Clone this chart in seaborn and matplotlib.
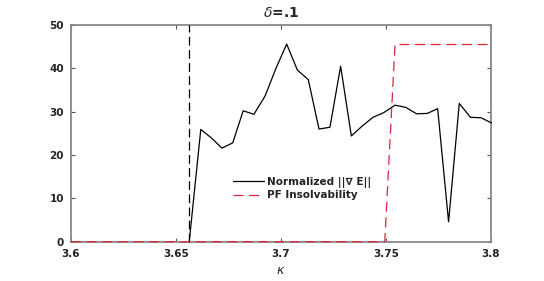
import numpy as np
import pandas as pd
import matplotlib
matplotlib.use("Agg")
import matplotlib.pyplot as plt
import seaborn as sns

# kappa samples and normalized gradient values
kappa = [3.6563, 3.6618, 3.6667, 3.6719, 3.6770, 3.6820, 3.6871, 3.6924,
         3.6976, 3.7027, 3.7078, 3.7130, 3.7181, 3.7233, 3.7284, 3.7335,
         3.7387, 3.7438, 3.7490, 3.7543, 3.7594, 3.7646, 3.7697, 3.7746,
         3.7798, 3.7849, 3.7902, 3.7952, 3.8003]
grad_norm = [0.0, 25.9, 24.0, 21.6, 22.8, 30.2, 29.4, 33.6,
             40.0, 45.6, 39.6, 37.4, 26.0, 26.4, 40.5, 24.4,
             26.7, 28.7, 29.8, 31.5, 31.0, 29.5, 29.6, 30.7,
             4.6, 31.9, 28.7, 28.6, 27.4]

# PF insolvability step
pf_kappa = [3.60, 3.7494, 3.7543, 3.80]
pf_value = [0.0, 0.0, 45.5, 45.5]

# critical kappa marker
crit_kappa = [3.6563, 3.6563]
crit_value = [0.0, 50.0]

df_grad = pd.DataFrame({"kappa": kappa, "val": grad_norm})
df_pf = pd.DataFrame({"kappa": pf_kappa, "val": pf_value})
df_crit = pd.DataFrame({"kappa": crit_kappa, "val": crit_value})

sns.set_style("white")
plt.rcParams["font.family"] = ["DejaVu Sans"]

fig = plt.figure(figsize=(5.44, 2.81), dpi=100)
ax = fig.add_axes([71 / 544, 1 - 241.7 / 281, 420 / 544, 216.7 / 281])

sns.lineplot(data=df_crit, x="kappa", y="val", ax=ax, color="black",
             lw=0.9, estimator=None, sort=False)
ax.lines[-1].set_dashes([7, 3.5])
sns.lineplot(data=df_grad, x="kappa", y="val", ax=ax, color="black",
             lw=0.9, estimator=None, sort=False, label="Normalized ||\u2207 E||")
sns.lineplot(data=df_pf, x="kappa", y="val", ax=ax, color="#d9263a",
             lw=0.9, estimator=None, sort=False, label="PF Insolvability")
ax.lines[-1].set_dashes([8, 4.5])
for ln in ax.lines:
    ln.set_zorder(3)
    ln.set_clip_on(False)

ax.set_xlim(3.6, 3.8)
ax.set_ylim(0, 50)
ax.set_xticks([3.6, 3.65, 3.7, 3.75, 3.8])
ax.set_xticklabels(["3.6", "3.65", "3.7", "3.75", "3.8"])
ax.set_yticks([0, 10, 20, 30, 40, 50])

for s in ax.spines.values():
    s.set_color("#888888")
    s.set_linewidth(1.3)
    s.set_visible(True)
    s.set_zorder(2)

ax.tick_params(direction="in", length=3, width=0.8, color="#555555",
               top=True, right=True, bottom=True, left=True,
               labelsize=7.5, labelcolor="#222222")
ax.tick_params(axis="x", pad=5)
ax.tick_params(axis="y", pad=5)
for lab in ax.get_xticklabels() + ax.get_yticklabels():
    lab.set_fontweight("bold")

ax.set_title(r"$\delta$=.1", fontsize=10, fontweight="bold", pad=6)
ax.set_xlabel(r"$\kappa$", fontsize=9, labelpad=4)
ax.set_ylabel("")

leg = ax.legend(loc="center", bbox_to_anchor=(0.55, 0.245), frameon=False,
                fontsize=7.5, handlelength=3.0, handletextpad=0.3,
                labelspacing=0.25, borderaxespad=0)
for t in leg.get_texts():
    t.set_fontweight("bold")
    t.set_color("#222222")

fig.savefig("out.png", dpi=100)
